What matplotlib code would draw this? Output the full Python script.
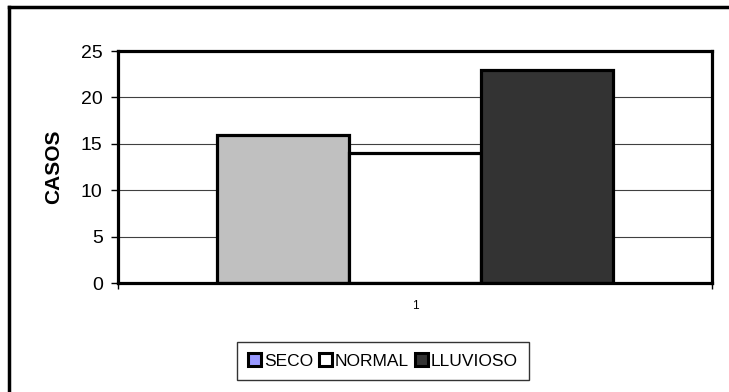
import matplotlib
matplotlib.use("Agg")
import matplotlib.pyplot as plt
from matplotlib.patches import Patch
from matplotlib.lines import Line2D

plt.rcParams['font.family'] = ['Liberation Sans', 'DejaVu Sans']

# Data
series = ["SECO", "NORMAL", "LLUVIOSO"]
casos = [16, 14, 23]
bar_colors = ["#C0C0C0", "#FFFFFF", "#333333"]
legend_colors = ["#9999FF", "#FFFFFF", "#333333"]
category_label = "1"
y_ticks = [0, 5, 10, 15, 20, 25]

W, H = 729, 392
fig = plt.figure(figsize=(W / 100, H / 100), dpi=100)
fig.patch.set_facecolor("white")

ax = fig.add_axes([118 / W, 1 - 283 / H, (712 - 118) / W, (283 - 51) / H])

lw = 2.3
positions = [-1, 0, 1]
for x, v, c in zip(positions, casos, bar_colors):
    ax.bar(x, v, width=1.0, color=c, edgecolor="black", linewidth=lw, zorder=3)

ax.set_xlim(-2.25, 2.25)
ax.set_ylim(0, 25)
ax.set_yticks(y_ticks)
ax.set_yticklabels([str(t) for t in y_ticks], fontsize=14)
ax.yaxis.grid(True, color="#404040", linewidth=0.8, zorder=0)
ax.set_axisbelow(True)

ax.set_xticks([-2.25, 2.25])
ax.set_xticklabels(["", ""])
ax.tick_params(axis="x", direction="out", length=4, width=1, color="black")
ax.tick_params(axis="y", direction="out", length=5, width=1, color="black", pad=6)

ax.text(0, -0.1, category_label, transform=ax.get_xaxis_transform(),
        ha="center", va="center", fontsize=8.5)

for s in ax.spines.values():
    s.set_linewidth(lw)
    s.set_color("black")
    s.set_zorder(4)

ax.set_ylabel("CASOS", fontsize=15, fontweight="bold")
ax.yaxis.set_label_coords((63 - 118) / (712 - 118), 0.5)

handles = [Patch(facecolor=c, edgecolor="black", linewidth=2.2) for c in legend_colors]
leg = fig.legend(handles, series, loc="center",
                 bbox_to_anchor=((246 + 520) / 2 / W, 1 - 361 / H),
                 ncol=3, frameon=True, fancybox=False, fontsize=12.5,
                 handlelength=0.75, handleheight=0.75, handletextpad=0.15,
                 columnspacing=0.35, borderpad=0.65, borderaxespad=0)
leg.get_frame().set_edgecolor("black")
leg.get_frame().set_linewidth(1.0)

# Outer chart border (left and top edges)
fig.add_artist(Line2D([9 / W, 9 / W], [0, 1 - 7 / H], transform=fig.transFigure,
                      color="black", linewidth=2.5))
fig.add_artist(Line2D([9 / W, 1], [1 - 7 / H, 1 - 7 / H], transform=fig.transFigure,
                      color="black", linewidth=2.5))

fig.savefig("out.png", dpi=100)
